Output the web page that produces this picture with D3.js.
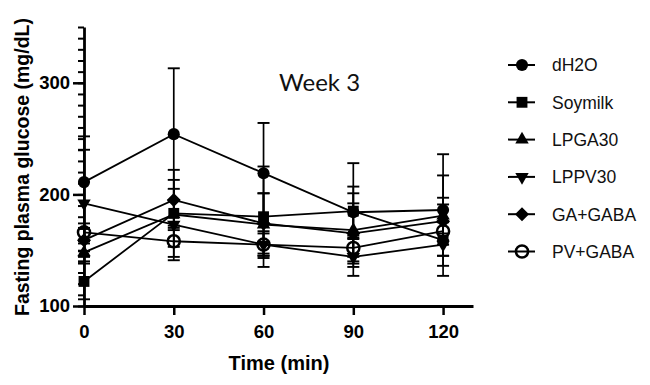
<!DOCTYPE html>
<html>
<head>
<meta charset="utf-8">
<script src="https://cdn.jsdelivr.net/npm/d3@7"></script>
<style>
  body { margin: 0; background: #fff; }
  svg { display: block; }
</style>
</head>
<body>
<div id="chart"></div>
<script>
// data
var times = [0, 30, 60, 90, 120];
var groups = ["dH2O", "Soymilk", "LPGA30", "LPPV30", "GA+GABA", "PV+GABA"];
var dH2O_mean    = [211, 254, 219, 184, 186];
var dH2O_err     = [41, 59, 45, 44, 50];
var soymilk_mean = [122, 183, 180, 185, 159];
var soymilk_err  = [16, 30, 45, 22, 32];
var lpga30_mean  = [148, 182, 173, 168, 181];
var lpga30_err   = [8, 12, 28, 33, 36];
var lppv30_mean  = [192, 173, 155, 144, 155];
var lppv30_err   = [48, 32, 12, 17, 10];
var gaGaba_mean  = [159, 195, 174, 165, 176];
var gaGaba_err   = [10, 27, 27, 27, 21];
var pvGaba_mean  = [166, 158, 155, 152, 167];
var pvGaba_err   = [8, 14, 10, 8, 8];
var yMajorTicks = [100, 200, 300];
var xTicks = [0, 30, 60, 90, 120];

var means = [dH2O_mean, soymilk_mean, lpga30_mean, lppv30_mean, gaGaba_mean, pvGaba_mean];
var errs  = [dH2O_err, soymilk_err, lpga30_err, lppv30_err, gaGaba_err, pvGaba_err];
var shapes = ["circle", "square", "up", "down", "diamond", "open"];

var series = groups.map(function(g, i) {
  return {
    name: g, shape: shapes[i],
    values: times.map(function(t, j) { return {t: t, m: means[i][j], e: errs[i][j]}; })
  };
});

var W = 650, H = 385;
var svg = d3.select("#chart").append("svg")
  .attr("width", W).attr("height", H)
  .style("font-family", "'Liberation Sans', Arial, sans-serif");

var x = d3.scaleLinear().domain([0, 130]).range([84, 473]);
var y = d3.scaleLinear().domain([100, 350]).range([306, 27]);

// marker paths
function markerPath(shape) {
  if (shape == "circle" || shape == "open") return d3.symbol().type(d3.symbolCircle).size(115)();
  if (shape == "square") return d3.symbol().type(d3.symbolSquare).size(118)();
  if (shape == "up" || shape == "down") return d3.symbol().type(d3.symbolTriangle).size(78)();
  return "M0,-7L7,0L0,7L-7,0Z";
}
function drawMarker(sel, shape) {
  sel.append("path")
    .attr("d", markerPath(shape))
    .attr("transform", shape == "down" ? "rotate(180)" : null)
    .attr("fill", shape == "open" ? "none" : "#000")
    .attr("stroke", "#000")
    .attr("stroke-width", shape == "open" ? 2.5 : 0);
}

// Y axis, minor ticks
svg.append("g")
  .attr("transform", "translate(84,0)")
  .call(d3.axisLeft(y).tickValues(d3.range(100, 351, 10)).tickSize(6).tickFormat(""))
  .call(function(g) {
    g.select(".domain").remove();
    g.selectAll("line").attr("stroke", "#000").attr("stroke-width", 2);
  });

// Y axis, major
svg.append("g")
  .attr("transform", "translate(84,0)")
  .call(d3.axisLeft(y).tickValues(yMajorTicks).tickSize(11).tickSizeOuter(0).tickPadding(3))
  .call(function(g) {
    g.select(".domain").attr("stroke", "#000").attr("stroke-width", 2.8);
    g.selectAll("line").attr("stroke", "#000").attr("stroke-width", 2.5);
    g.selectAll("text").attr("fill", "#000").style("font-size", "18.5px").style("font-weight", "bold");
  });

// X axis
svg.append("g")
  .attr("transform", "translate(0,306)")
  .call(d3.axisBottom(x).tickValues(xTicks).tickSize(9).tickSizeOuter(0).tickPadding(10))
  .call(function(g) {
    g.select(".domain").attr("stroke", "#000").attr("stroke-width", 2.8);
    g.selectAll("line").attr("stroke", "#000").attr("stroke-width", 2.5);
    g.selectAll("text").attr("fill", "#000").style("font-size", "18.5px").style("font-weight", "bold");
  });

// axis titles
svg.append("text")
  .attr("transform", "translate(29,167) rotate(-90)")
  .attr("text-anchor", "middle")
  .style("font-size", "19.5px").style("font-weight", "bold")
  .text("Fasting plasma glucose (mg/dL)");

svg.append("text")
  .attr("x", 279).attr("y", 370)
  .attr("text-anchor", "middle")
  .style("font-size", "20px").style("font-weight", "bold")
  .text("Time (min)");

svg.append("text")
  .attr("x", 279).attr("y", 91)
  .style("font-family", "Lato, 'Open Sans', sans-serif")
  .style("font-size", "24px")
  .attr("fill", "#111")
  .text("Week 3");

var line = d3.line()
  .x(function(d) { return x(d.t); })
  .y(function(d) { return y(d.m); });

// lines
svg.append("g").selectAll("path")
  .data(series).enter()
  .append("path")
    .attr("d", function(s) { return line(s.values); })
    .attr("fill", "none")
    .attr("stroke", "#000")
    .attr("stroke-width", 1.8);

// error bars
var eb = svg.append("g").selectAll("g")
  .data(series).enter().append("g")
  .selectAll("g")
  .data(function(s) { return s.values; }).enter()
  .append("g");
eb.append("line")
  .attr("x1", function(d) { return x(d.t); }).attr("x2", function(d) { return x(d.t); })
  .attr("y1", function(d) { return y(d.m - d.e); }).attr("y2", function(d) { return y(d.m + d.e); })
  .attr("stroke", "#000").attr("stroke-width", 1.7);
[-1, 1].forEach(function(k) {
  eb.append("line")
    .attr("x1", function(d) { return x(d.t) - 6; }).attr("x2", function(d) { return x(d.t) + 6; })
    .attr("y1", function(d) { return y(d.m + k * d.e); }).attr("y2", function(d) { return y(d.m + k * d.e); })
    .attr("stroke", "#000").attr("stroke-width", 1.9);
});

// markers
series.forEach(function(s) {
  svg.append("g").selectAll("g")
    .data(s.values).enter()
    .append("g")
      .attr("transform", function(d) { return "translate(" + x(d.t) + "," + y(d.m) + ")"; })
      .each(function() { drawMarker(d3.select(this), s.shape); });
});

// legend
var legend = svg.append("g").selectAll("g")
  .data(series).enter()
  .append("g")
    .attr("transform", function(d, i) { return "translate(522," + (65 + i * 37.3) + ")"; });
legend.append("line")
  .attr("x1", -14).attr("x2", 13)
  .attr("stroke", "#000").attr("stroke-width", 2);
legend.each(function(s) { drawMarker(d3.select(this), s.shape); });
legend.append("text")
  .attr("x", 30).attr("dy", "0.36em")
  .style("font-size", "17.5px")
  .attr("fill", "#111")
  .text(function(s) { return s.name; });
</script>
</body>
</html>
